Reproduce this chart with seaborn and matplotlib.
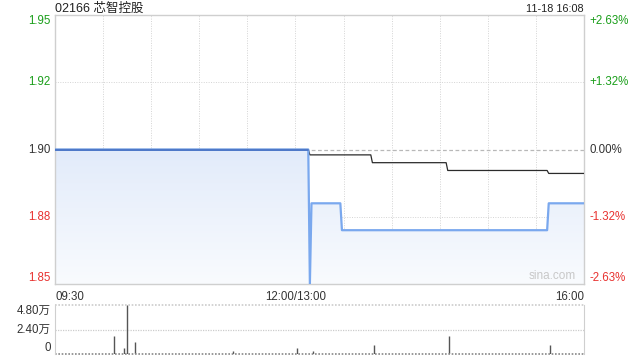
import numpy as np
import pandas as pd
import matplotlib
matplotlib.use("Agg")
import matplotlib.pyplot as plt
import seaborn as sns
from matplotlib.colors import LinearSegmentedColormap
from matplotlib.patches import Polygon

sns.set_style("white")
plt.rcParams['font.family'] = ['Liberation Sans', 'Noto Sans CJK SC', 'DejaVu Sans']

# ---------------- data ----------------
title = "02166 芯智控股"
stamp = "11-18 16:08"
prev_close = 1.90

price_times = ["09:30", "13:08", "13:09", "13:10", "13:28", "13:29", "15:37", "15:38", "16:00"]
price_vals = [1.90, 1.90, 1.85, 1.88, 1.88, 1.87, 1.87, 1.88, 1.88]

avg_times = ["09:30", "13:08", "13:09", "13:47", "13:48", "14:34", "14:35", "15:37", "15:38", "16:00"]
avg_vals = [1.90, 1.90, 1.898, 1.898, 1.8951, 1.8951, 1.8922, 1.8922, 1.8911, 1.8911]

vol_times = ["10:07", "10:13", "10:15", "10:20", "11:21", "13:01", "13:11", "13:49", "14:36", "15:39", "16:00"]
vol_vals = [18100, 5800, 48000, 11300, 3200, 5500, 3200, 9000, 18100, 9000, 1000]

y_ticks = [1.85, 1.875, 1.90, 1.925, 1.95]
y_labels = ["1.85", "1.88", "1.90", "1.92", "1.95"]
pct_labels = ["-2.63%", "-1.32%", "0.00%", "+1.32%", "+2.63%"]
x_tick_times = ["09:30", "12:00", "16:00"]
x_tick_labels = ["09:30", "12:00/13:00", "16:00"]
vol_ticks = [0, 24000, 48000]
vol_labels = ["0", "2.40万", "4.80万"]


def tidx(t):
    h, m = map(int, t.split(":"))
    mins = h * 60 + m
    if mins <= 12 * 60:
        return mins - (9 * 60 + 30)
    return 150 + mins - 13 * 60


price_df = pd.DataFrame({"x": [tidx(t) for t in price_times], "price": price_vals})
avg_df = pd.DataFrame({"x": [tidx(t) for t in avg_times], "avg": avg_vals})
vol_x = [tidx(t) for t in vol_times]

GREEN = "#1a9e1a"
RED = "#e8312f"
DARK = "#333333"
GRID = "#d4d4d4"

fig = plt.figure(figsize=(6.4, 3.6), dpi=100)
ax = fig.add_axes([55 / 640, 76 / 360, 529 / 640, 269 / 360])
axv = fig.add_axes([55 / 640, 6 / 360, 529 / 640, 49 / 360])

ymin, ymax = 1.85, 1.95
ax.set_xlim(0, 330)
ax.set_ylim(ymin, ymax)

# gradient fill under price line
poly_xy = list(zip(price_df["x"], price_df["price"])) + [(330, ymin), (0, ymin)]
cmap = LinearSegmentedColormap.from_list("g", ["#f9fbfe", "#e2ebfa"])
grad = np.linspace(0, 1, 256).reshape(-1, 1)
im = ax.imshow(grad, extent=[0, 330, ymin, prev_close], origin="lower", aspect="auto",
               cmap=cmap, zorder=1)
clip = Polygon(poly_xy, closed=True, transform=ax.transData, facecolor="none", edgecolor="none")
ax.add_patch(clip)
im.set_clip_path(clip)

# grid
for gx in range(30, 330, 30):
    ax.axvline(gx, color=GRID, lw=0.7, ls=(0, (1, 1.5)), zorder=0.5)
for gy in [1.875, 1.925]:
    ax.axhline(gy, color=GRID, lw=0.7, ls=(0, (1, 1.5)), zorder=0.5)
ax.axhline(prev_close, color="#b8b8b8", lw=0.9, ls=(0, (3, 2)), zorder=0.5)

sns.lineplot(data=avg_df, x="x", y="avg", ax=ax, color="#2b2b2b", lw=0.9, zorder=3)
sns.lineplot(data=price_df, x="x", y="price", ax=ax, color="#7aa8ee", lw=1.6, zorder=4)
ax.plot(price_df["x"][:2], price_df["price"][:2], color="#4d78c8", lw=1.4, zorder=5)

ax.set_xticks([])
ax.set_yticks([])
ax.set_xlabel("")
ax.set_ylabel("")
for s in ax.spines.values():
    s.set_color("#cfcfcf")
    s.set_linewidth(1)

ytr = ax.get_yaxis_transform()
for v, lab, pl in zip(y_ticks, y_labels, pct_labels):
    if v > prev_close + 1e-9:
        c = GREEN
    elif v < prev_close - 1e-9:
        c = RED
    else:
        c = DARK
    va = "top" if v == ymax else ("bottom" if v == ymin else "center")
    ax.text(-0.008, v, lab, transform=ytr, ha="right", va=va, color=c, fontsize=8.3)
    ax.text(1.01, v, pl, transform=ytr, ha="left", va=va, color=c, fontsize=8.3)

xtr = ax.get_xaxis_transform()
for t, lab in zip(x_tick_times, x_tick_labels):
    xi = tidx(t)
    ha = "left" if xi == 0 else ("right" if xi == 330 else "center")
    ax.text(xi, -0.025, lab, transform=xtr, ha=ha, va="top", color=DARK, fontsize=8.3)

ax.text(0.0, 1.012, title, transform=ax.transAxes, ha="left", va="baseline", color="#222222", fontsize=9)
ax.text(1.0, 1.012, stamp, transform=ax.transAxes, ha="right", va="baseline", color="#222222", fontsize=7.8)
ax.text(0.985, 0.008, "sina.com", transform=ax.transAxes, ha="right", va="bottom", color="#c8c8c8", fontsize=8.5)

# volume panel
axv.set_xlim(0, 330)
axv.set_ylim(0, 48000)
axv.vlines(vol_x, 0, vol_vals, color="#555555", lw=1.0)
axv.axhline(24000, color="#cccccc", lw=0.9, ls=(0, (1, 1)))
axv.axhline(48000, color="#cccccc", lw=1.2, ls=(0, (1, 1)), clip_on=False)
axv.axhline(0, color="#888888", lw=1.2, ls=(0, (1, 1)), clip_on=False)
axv.set_xticks([])
axv.set_yticks([])
for side in ["top", "bottom"]:
    axv.spines[side].set_visible(False)
for side in ["left", "right"]:
    axv.spines[side].set_color("#cfcfcf")
vtr = axv.get_yaxis_transform()
for v, lab in zip(vol_ticks, vol_labels):
    va = "top" if v == 48000 else ("bottom" if v == 0 else "center")
    axv.text(-0.008, v, lab, transform=vtr, ha="right", va=va, color=DARK, fontsize=8.3)

fig.savefig("out.png", dpi=100)
